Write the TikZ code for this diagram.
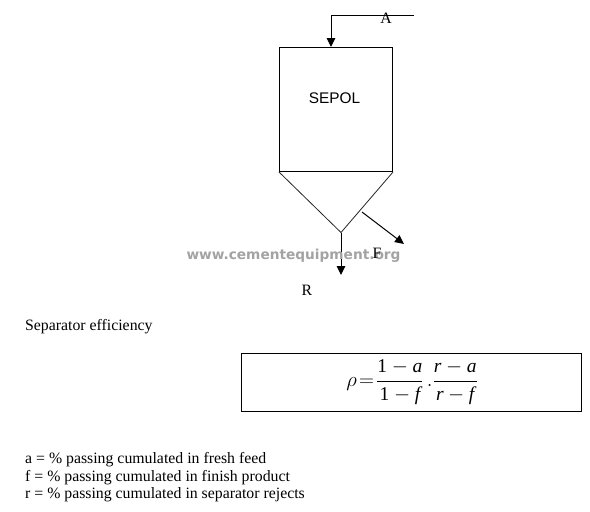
\documentclass[tikz,border=0pt]{standalone}
\usepackage{amsmath}
\usepackage{fontspec}
\setmainfont{Liberation Serif}
\newfontfamily\arialf{Liberation Sans}
\newfontfamily\wmf{DejaVu Sans}
\usetikzlibrary{arrows.meta}
\tikzset{
  lineblk/.style={draw=black,line width=1pt},
  thin line/.style={draw=black!85,line width=0.8pt},
  arr/.style={lineblk,-{Triangle[length=9pt,width=8.5pt]}},
  lbl/.style={inner sep=0pt,font=\fontsize{15.8}{18}\selectfont,text=black},
  para/.style={inner sep=0pt,anchor=west,font=\fontsize{15.8}{18}\selectfont,text=black},
  wm/.style={inner sep=0pt,font=\wmf\bfseries\fontsize{13.7}{16}\selectfont,text=black!36}
}
\begin{document}
\begin{tikzpicture}[x=1pt,y=-1pt]
\useasboundingbox (0,0) rectangle (590,512);
\fill[white] (0,0) rectangle (590,512);
\node[draw=black,line width=1pt,minimum width=113pt,minimum height=124.5pt,inner sep=0pt,anchor=north west] (sep) at (279,46.5) {};
\node[lbl,font=\arialf\fontsize{15.4}{18}\selectfont] (sepol) at (334.5,98.5) {SEPOL};
\coordinate (corner) at (331,15);
\coordinate (inend) at (414,15);
\coordinate (inlet) at (331,47);
\draw[lineblk] (inend) -- (corner);
\draw[arr] (corner) -- (inlet);
\node[lbl] (a) at (386,18) {A};
\coordinate (apex) at (341,232.5);
\draw[thin line] (sep.south west) -- (apex) -- (sep.south east);
\coordinate (rend) at (341,275);
\draw[arr] (apex) -- (rend);
\coordinate (fstart) at (362,212);
\coordinate (fend) at (404,244);
\draw[arr] (fstart) -- (fend);
\node[wm] (water) at (293.5,256) {www.cementequipment.org};
\node[lbl] (f) at (377,253) {F};
\node[lbl] (r) at (307,290) {R};
\node[para] (title) at (25,327) {Separator efficiency};
\node[draw=black,line width=1pt,minimum width=340pt,minimum height=57.5pt,inner sep=0pt,anchor=north west] (formula) at (241,353) {};
\node[inner sep=0pt,font=\fontsize{19.5}{22}\selectfont] (eq) at (412,382.5)
  {$\rho\mkern2mu{=}\mkern2mu\dfrac{\text{1}-\textit{a}}{\text{1}-\textit{f}}\,.\dfrac{\textit{r}-\textit{a}}{\textit{r}-\textit{f}}$};
\node[para] (l1) at (25,459.5) {a = \% passing cumulated in fresh feed};
\node[para] (l2) at (25,477.5) {f = \% passing cumulated in finish product};
\node[para] (l3) at (25,495) {r = \% passing cumulated in separator rejects};
\end{tikzpicture}
\end{document}
